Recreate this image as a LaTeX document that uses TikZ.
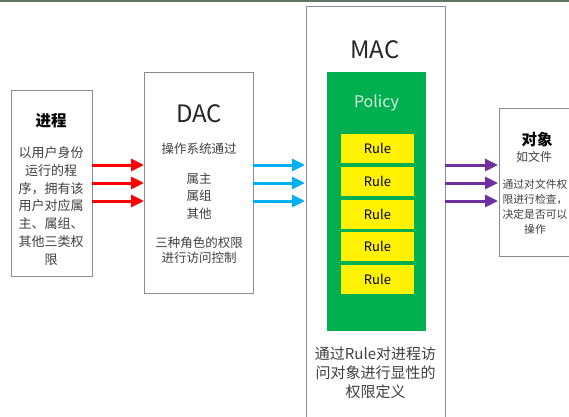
\documentclass[tikz,border=0pt]{standalone}
\usepackage{fontspec}
\setmainfont{Noto Sans CJK SC}
\usetikzlibrary{shapes.misc,arrows.meta}
\definecolor{boxgray}{HTML}{8C8C8C}
\definecolor{txtgray}{HTML}{404040}
\definecolor{policygreen}{HTML}{00B050}
\definecolor{policytxt}{HTML}{D8F0DC}
\definecolor{arrred}{HTML}{FF0000}
\definecolor{arrblue}{HTML}{00B0F0}
\definecolor{arrpurple}{HTML}{7030A0}
\definecolor{topbar}{HTML}{5F7462}
\begin{document}
\begin{tikzpicture}[x=1pt,y=-1pt,inner sep=0pt,outer sep=0pt,
  panel/.style={draw=boxgray,line width=1pt,fill=white,rectangle},
  bodytext/.style={text=txtgray,align=center,font=\fontsize{12.5}{17.5}\selectfont},
  titletext/.style={text=black!85,font=\fontsize{24}{28}\selectfont},
  rulebox/.style={fill=yellow,minimum width=73pt,minimum height=29pt,font=\fontsize{13}{15}\selectfont},
  flow/.style={line width=3pt,-{Triangle[length=13pt,width=12pt]}}]
\useasboundingbox (0,0) rectangle (569,416);
\clip (0,0) rectangle (569,416);
\draw[topbar,line width=2.5pt] (0,0.5) -- (569,0.5);
% process
\node[panel,chamfered rectangle,chamfered rectangle corners=north east,
  chamfered rectangle xsep=7pt,chamfered rectangle ysep=7pt,
  minimum width=81pt,minimum height=186pt] (proc) at (51.5,183) {};
\node[font=\bfseries\fontsize{15.5}{18}\selectfont] (proctitle) at (51,121) {进程};
\node[bodytext,font=\fontsize{13}{17.7}\selectfont] (proctext) at (51,206)
  {以用户身份\\运行的程\\序，拥有该\\用户对应属\\主、属组、\\其他三类权\\限};
% DAC
\node[panel,minimum width=109pt,minimum height=221pt] (dac) at (198.5,182.5) {};
\node[titletext] (dactitle) at (199,114) {DAC};
\node[bodytext] (dacos) at (199,149) {操作系统通过};
\node[bodytext] (dacrole) at (199,196) {属主\\属组\\其他};
\node[bodytext,font=\fontsize{12.5}{15}\selectfont] (daccontrol) at (199,250) {三种角色的权限\\进行访问控制};
% MAC
\node[panel,minimum width=139pt,minimum height=420pt] (mac) at (375.5,216) {};
\node[titletext] (mactitle) at (375,50) {MAC};
\node[fill=policygreen,minimum width=99pt,minimum height=259pt] (policy) at (376.5,201.5) {};
\node[text=policytxt,font=\fontsize{16}{18}\selectfont] (policytitle) at (376.5,103) {Policy};
\foreach \i in {1,...,5}
  \node[rulebox] (rule\i) at (377.5,{148.5+(\i-1)*32.8}) {Rule};
\node[bodytext,font=\fontsize{15}{19}\selectfont] (macnote) at (375.5,373)
  {通过Rule对进程访\\问对象进行显性的\\权限定义};
% object
\node[panel,minimum width=82pt,minimum height=148pt] (obj) at (540,182) {};
\node[font=\bfseries\fontsize{15.5}{18}\selectfont] (objtitle) at (537,140) {对象};
\node[bodytext,font=\fontsize{12}{15}\selectfont] (objkind) at (534,157) {如文件};
\node[bodytext,font=\fontsize{10.8}{15}\selectfont] (objtext) at (535,207)
  {通过对文件权\\限进行检查，\\决定是否可以\\操作};
% arrows
\foreach \y in {165,183,201} {
  \draw[flow,arrred] (proc.east |- 0,\y) -- (dac.west |- 0,\y);
  \draw[flow,arrblue] (dac.east |- 0,\y) -- ([xshift=-1pt]mac.west |- 0,\y);
  \draw[flow,arrpurple] (mac.east |- 0,\y) -- ([xshift=-1pt]obj.west |- 0,\y);
}
\end{tikzpicture}
\end{document}
